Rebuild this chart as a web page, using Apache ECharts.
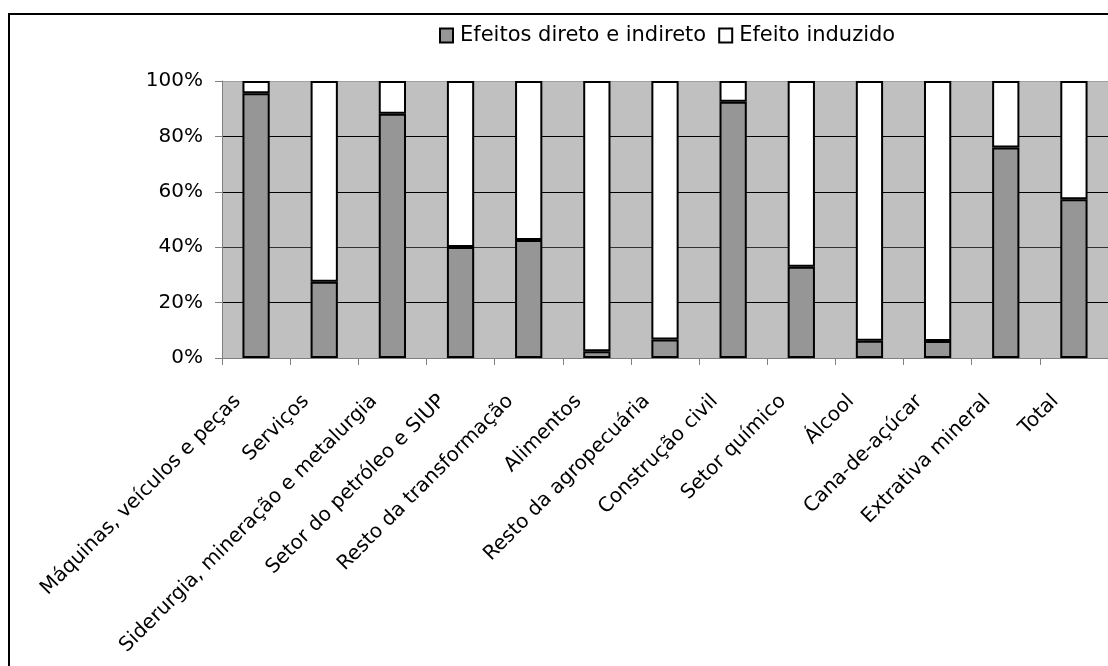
<!DOCTYPE html>
<html>
<head>
<meta charset="utf-8">
<script src="https://cdn.jsdelivr.net/npm/echarts@6/dist/echarts.min.js"></script>
<style>
html,body{margin:0;padding:0;background:#fff;}
#chart{width:1108px;height:666px;}
</style>
</head>
<body>
<div id="chart"></div>
<script>
var categories = ["Máquinas, veículos e peças","Serviços","Siderurgia, mineração e metalurgia","Setor do petróleo e SIUP","Resto da transformação","Alimentos","Resto da agropecuária","Construção civil","Setor químico","Álcool","Cana-de-açúcar","Extrativa mineral","Total"];
var seriesNames = ["Efeitos direto e indireto","Efeito induzido"];
var directIndirect = [95.6, 27.5, 88.2, 40.1, 42.6, 2.4, 6.7, 92.5, 32.9, 6.2, 6.1, 76.0, 57.3];
var induced = [4.4, 72.5, 11.8, 59.9, 57.4, 97.6, 93.3, 7.5, 67.1, 93.8, 93.9, 24.0, 42.7];
var yTicks = [0, 20, 40, 60, 80, 100];

var FONT = "DejaVu Sans";
var chart = echarts.init(document.getElementById('chart'), null, {renderer:'canvas'});
chart.setOption({
  animation:false,
  backgroundColor:'#ffffff',
  textStyle:{fontFamily:FONT},
  graphic:[{
    type:'rect', z:100, silent:true,
    shape:{x:9, y:14, width:1200, height:700},
    style:{fill:'none', stroke:'#000', lineWidth:2}
  }],
  legend:{
    left:439, top:25, padding:0,
    itemWidth:13, itemHeight:14, itemGap:12,
    icon:'rect',
    textStyle:{fontFamily:FONT, fontSize:21, color:'#000', padding:[0,0,0,2]},
    data:seriesNames
  },
  grid:{left:222, top:81, width:890.5, height:277, show:true, backgroundColor:'#c0c0c0', borderWidth:0, containLabel:false},
  xAxis:{
    type:'category', data:categories, boundaryGap:true,
    axisLine:{show:true, lineStyle:{color:'#808080', width:1}},
    axisTick:{show:true, alignWithLabel:false, length:7, lineStyle:{color:'#808080'}},
    axisLabel:{interval:0, rotate:45, margin:36, verticalAlign:'bottom', padding:[0,16,0,0], fontFamily:FONT, fontSize:20, color:'#000'},
    splitLine:{show:false}
  },
  yAxis:{
    type:'value', min:yTicks[0], max:yTicks[yTicks.length-1], interval:20,
    axisLine:{show:true, lineStyle:{color:'#808080', width:1}},
    axisTick:{show:true, length:7, lineStyle:{color:'#808080'}},
    axisLabel:{margin:19, fontFamily:FONT, fontSize:20, color:'#000', formatter:function(v){return v+'%';}},
    splitLine:{show:true, lineStyle:{color:['#808080','#000','#333','#000','#000','#a0a0a0'], width:1}}
  },
  series:[
    {name:seriesNames[0], type:'bar', stack:'s', barWidth:'40%', data:directIndirect,
     itemStyle:{color:'#969696', borderColor:'#000', borderWidth:2}},
    {name:seriesNames[1], type:'bar', stack:'s', barWidth:'40%', data:induced,
     itemStyle:{color:'#ffffff', borderColor:'#000', borderWidth:2}}
  ]
});
</script>
</body>
</html>
